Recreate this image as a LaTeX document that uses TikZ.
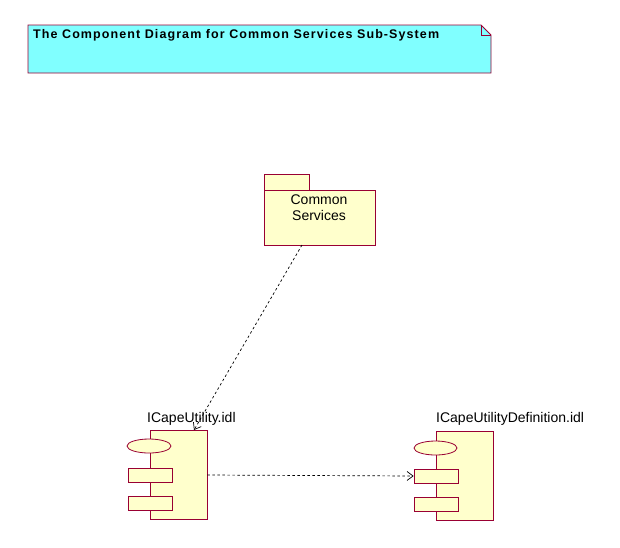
\documentclass[tikz,border=0pt]{standalone}
\usepackage{fontspec}
\setmainfont{Liberation Sans}
\usetikzlibrary{arrows.meta,shapes.geometric}
\definecolor{edge}{HTML}{990033}
\definecolor{notefill}{HTML}{80FFFF}
\definecolor{compfill}{HTML}{FFFFCC}
\begin{document}
\begin{tikzpicture}[x=1pt,y=-1pt,
  shapeline/.style={draw=edge,line width=0.8pt,fill=compfill},
  lbl/.style={inner sep=0pt,anchor=base west,font=\fontsize{14}{16}\selectfont},
  dep/.style={draw=black,line width=0.7pt,dash pattern=on 2.5pt off 2.5pt,-{Straight Barb[length=6pt,width=9pt]}}]
\useasboundingbox (0,0) rectangle (620,547);
% note
\path[draw=edge,line width=0.8pt,fill=notefill] (28,25) -- (481,25) -- (491,35) -- (491,73) -- (28,73) -- cycle;
\draw[edge,line width=0.6pt] (481,25) -- (481,35) -- (491,35);
\node[inner sep=0pt,anchor=base west,font=\bfseries\fontsize{12.5}{14}\selectfont\addfontfeatures{LetterSpace=8.7}] (title) at (33,38.5) {The Component Diagram for Common Services Sub-System};
% package
\path[shapeline] (264,174) rectangle (309,190);
\path[shapeline] (264,190) rectangle (375,245);
\node (pkg) at (319.5,217.5) [minimum width=111pt,minimum height=55pt,inner sep=0pt] {};
\node[inner sep=0pt,anchor=base,font=\fontsize{14}{16}\selectfont] (pkgt1) at (319,204) {Common};
\node[inner sep=0pt,anchor=base,font=\fontsize{14}{16}\selectfont] (pkgt2) at (319,220.5) {Services};
% component 1
\node[shapeline,minimum width=57pt,minimum height=89pt,inner sep=0pt] (c1) at (178.5,474.5) {};
\node[shapeline,ellipse,minimum width=44pt,minimum height=14pt,inner sep=0pt] (e1) at (149,446) {};
\node[shapeline,minimum width=44pt,minimum height=14pt,inner sep=0pt] (r1a) at (150,475) {};
\node[shapeline,minimum width=44pt,minimum height=14pt,inner sep=0pt] (r1b) at (150,503) {};
\node[lbl] (l1) at (147,422.5) {ICapeUtility.idl};
% component 2
\node[shapeline,minimum width=57pt,minimum height=89pt,inner sep=0pt] (c2) at (464.5,475.5) {};
\node[shapeline,ellipse,minimum width=43pt,minimum height=14pt,inner sep=0pt] (e2) at (435.5,448) {};
\node[shapeline,minimum width=44pt,minimum height=14pt,inner sep=0pt] (r2a) at (436,476) {};
\node[shapeline,minimum width=44pt,minimum height=14pt,inner sep=0pt] (r2b) at (436,504) {};
\node[lbl] (l2) at (436,422.5) {ICapeUtilityDefinition.idl};
% connectors
\coordinate (s1) at (302,245);
\coordinate (t1) at (194,430);
\draw[dep] (s1) -- (t1);
\coordinate (s2) at (c1.east |- 0,475);
\draw[dep] (s2) -- (r2a.west);
\end{tikzpicture}
\end{document}
